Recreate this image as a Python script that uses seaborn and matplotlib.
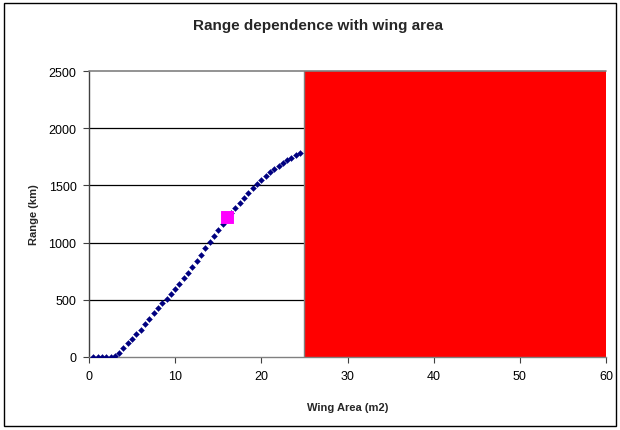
import matplotlib
matplotlib.use("Agg")
import matplotlib.pyplot as plt
from matplotlib.patches import Rectangle
import seaborn as sns
import pandas as pd

# Range vs wing area sweep
wing_area = [0.5, 1.0, 1.5, 2.0, 2.5, 3.0, 3.5, 4.0, 4.5, 5.0,
             5.5, 6.0, 6.5, 7.0, 7.5, 8.0, 8.5, 9.0, 9.5, 10.0,
             10.5, 11.0, 11.5, 12.0, 12.5, 13.0, 13.5, 14.0, 14.5, 15.0,
             15.5, 16.0, 16.5, 17.0, 17.5, 18.0, 18.5, 19.0, 19.5, 20.0,
             20.5, 21.0, 21.5, 22.0, 22.5, 23.0, 23.5, 24.0, 24.5]
range_km = [0, 0, 0, 0, 3, 8, 35, 80, 125, 160,
            200, 240, 288, 335, 382, 428, 470, 505, 548, 592,
            640, 688, 738, 790, 842, 895, 950, 1005, 1058, 1110,
            1160, 1210, 1255, 1300, 1345, 1390, 1432, 1475, 1515, 1550,
            1585, 1615, 1645, 1672, 1697, 1720, 1742, 1762, 1780]

# Design point
design_area = [16.0]
design_range = [1220]

# Excluded wing-area band
band_area = [25, 60]
band_top = 2500

x_ticks = [0, 10, 20, 30, 40, 50, 60]
y_ticks = [0, 500, 1000, 1500, 2000, 2500]

sns.set_theme(style="white")
plt.rcParams["font.family"] = ["Liberation Sans", "DejaVu Sans"]

fig = plt.figure(figsize=(6.2, 4.31), dpi=100)
ax = fig.add_axes([89 / 620, 1 - 358 / 431, (606 - 89) / 620, (358 - 72) / 431])

# horizontal gridlines
for yv in y_ticks[1:-1]:
    ax.axhline(yv, color="black", lw=0.9, zorder=1)

ax.fill_between(band_area, 0, band_top, color="#FF0000", lw=0, zorder=2)
ax.vlines(band_area[0], 0, band_top, color="#808080", lw=1.0, zorder=3)

df = pd.DataFrame({"Wing Area": wing_area, "Range": range_km})
sns.scatterplot(data=df, x="Wing Area", y="Range", marker="D", s=9,
                color="#000080", edgecolor="#000080", linewidth=0.3,
                ax=ax, zorder=4)
sns.scatterplot(x=design_area, y=design_range, marker="s", s=70,
                color="#FF00FF", edgecolor="#FF00FF", ax=ax, zorder=5)

ax.set_xlim(x_ticks[0], x_ticks[-1])
ax.set_ylim(y_ticks[0], y_ticks[-1])
ax.set_xticks(x_ticks)
ax.set_yticks(y_ticks)
ax.tick_params(axis="both", direction="out", length=4, width=0.8,
               color="#404040", labelsize=9, labelcolor="black", pad=5,
               bottom=True, left=True)

for side in ["top", "right"]:
    ax.spines[side].set_visible(False)
ax.spines["left"].set_color("#404040")
ax.spines["bottom"].set_color("#808080")
for sp in ["left", "bottom"]:
    ax.spines[sp].set_linewidth(1.0)
ax.axhline(band_top, color="#808080", lw=1.2, zorder=3, clip_on=False)

ax.set_xlabel("Wing Area (m2)", fontsize=8, fontweight="bold", labelpad=15)
ax.set_ylabel("Range (km)", fontsize=8, fontweight="bold", labelpad=7)

fig.text(318 / 620, 1 - 26 / 431, "Range dependence with wing area",
         ha="center", va="center", fontsize=11, fontweight="bold")

fig.patches.append(Rectangle((4 / 620, 4 / 431), 612 / 620, 423 / 431,
                             transform=fig.transFigure, fill=False,
                             edgecolor="black", lw=1.0))

fig.savefig("out.png", dpi=100)
